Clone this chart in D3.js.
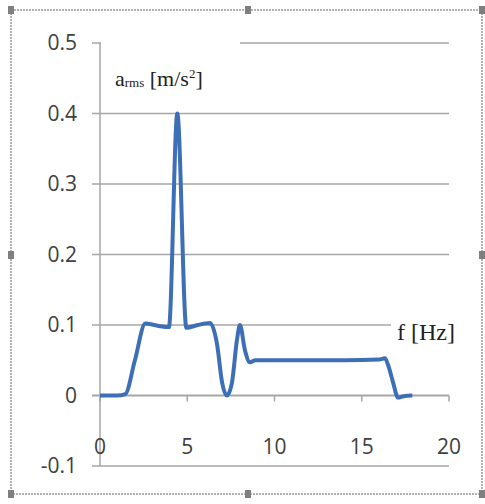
<!DOCTYPE html>
<html lang="en">
<head>
  <meta charset="UTF-8">
  <title>a_rms vs f</title>
  <script src="https://d3js.org/d3.v7.min.js"></script>
  <style>
    body { margin: 0; background: #fff; }
    text { fill: #404040; }
  </style>
</head>
<body>
  <svg width="485" height="504"></svg>

  <script>
    // frequency [Hz] and rms acceleration [m/s2]
    var freq = [0, 0.5, 1.0, 1.45, 2.0, 2.6, 3.3, 3.95, 4.43, 4.95, 5.6, 6.3, 6.7, 7.0, 7.27, 7.56, 7.85, 8.02, 8.3, 8.6, 8.9, 10, 12, 14, 16, 16.33, 16.5, 16.8, 17.08, 17.4, 17.9];
    var arms = [0, 0, 0, 0.002, 0.05, 0.102, 0.099, 0.097, 0.4, 0.096, 0.1, 0.103, 0.074, 0.018, 0, 0.018, 0.079, 0.1, 0.065, 0.047, 0.05, 0.05, 0.05, 0.05, 0.051, 0.053, 0.044, 0.018, -0.003, -0.001, 0];

    var xTicks = [0, 5, 10, 15, 20];
    var yTicks = [-0.1, 0, 0.1, 0.2, 0.3, 0.4, 0.5];

    var svg = d3.select("svg");

    var x = d3.scaleLinear().domain([0, 20]).range([100, 449]);
    var y = d3.scaleLinear().domain([-0.1, 0.5]).range([466, 43]);

    // dashed selection frame with handles
    svg.append("rect")
        .attr("x", 11).attr("y", 10).attr("width", 471).attr("height", 484)
        .attr("fill", "none").attr("stroke", "#999")
        .attr("stroke-width", 1.5).attr("stroke-dasharray", "2,1");

    var handles = [[11, 10], [248, 10], [482, 10], [11, 255], [482, 255], [11, 494], [248, 494], [482, 494]];
    svg.append("g").selectAll("rect")
        .data(handles)
        .enter().append("rect")
        .attr("x", d => d[0] - 3).attr("y", d => d[1] - 4)
        .attr("width", 6).attr("height", 8)
        .attr("fill", "#7f7f7f");

    // gridlines
    svg.append("g").selectAll("line")
        .data(yTicks.filter(d => d !== 0))
        .enter().append("line")
        .attr("x1", 92).attr("x2", x(20))
        .attr("y1", d => y(d)).attr("y2", d => y(d))
        .attr("stroke", "#a6a6a6").attr("stroke-width", 1.5);

    // y axis
    svg.append("line")
        .attr("x1", x(0)).attr("x2", x(0))
        .attr("y1", y(0.5)).attr("y2", y(-0.1))
        .attr("stroke", "#a6a6a6").attr("stroke-width", 1.5);

    // x axis at zero, ticks below
    svg.append("line")
        .attr("x1", 92).attr("x2", x(20))
        .attr("y1", y(0)).attr("y2", y(0))
        .attr("stroke", "#a6a6a6").attr("stroke-width", 2);
    svg.append("g").selectAll("line")
        .data(xTicks)
        .enter().append("line")
        .attr("x1", d => x(d)).attr("x2", d => x(d))
        .attr("y1", y(0)).attr("y2", y(0) + 6)
        .attr("stroke", "#a6a6a6").attr("stroke-width", 1.5);

    // y tick labels
    svg.append("g").selectAll("text")
        .data(yTicks)
        .enter().append("text")
        .attr("x", 77).attr("y", d => y(d) + 7)
        .attr("text-anchor", "end")
        .style("font-family", "Open Sans, sans-serif")
        .style("font-size", "21px")
        .text(d => d);

    // x tick labels
    svg.append("g").selectAll("text")
        .data(xTicks)
        .enter().append("text")
        .attr("x", d => x(d)).attr("y", 454)
        .attr("text-anchor", "middle")
        .style("font-family", "Open Sans, sans-serif")
        .style("font-size", "21px")
        .text(d => d);

    // title boxes hide part of the gridlines
    svg.append("rect")
        .attr("x", x(0) + 1).attr("y", y(0.5) - 5).attr("width", 139).attr("height", 10)
        .attr("fill", "#fff");
    svg.append("rect")
        .attr("x", 391).attr("y", y(0.1) - 5).attr("width", 60).attr("height", 10)
        .attr("fill", "#fff");

    // data line
    var points = freq.map((f, i) => [f, arms[i]]);
    var line = d3.line()
        .x(d => x(d[0]))
        .y(d => y(d[1]))
        .curve(d3.curveMonotoneX);

    svg.append("path")
        .datum(points)
        .attr("fill", "none")
        .attr("stroke", "#3d6fb6")
        .attr("stroke-width", 4)
        .attr("stroke-linejoin", "round")
        .attr("d", line);

    // axis titles
    var yt = svg.append("text")
        .attr("x", 115).attr("y", 86)
        .style("font-family", "Liberation Serif, serif")
        .style("font-size", "22px")
        .style("fill", "#222");
    yt.append("tspan").text("a");
    yt.append("tspan").style("font-size", "13px").attr("dy", 1).text("rms");
    yt.append("tspan").attr("dy", -1).text(" [m/s");
    yt.append("tspan").style("font-size", "13px").attr("dy", -8).text("2");
    yt.append("tspan").attr("dy", 8).text("]");

    svg.append("text")
        .attr("x", 397).attr("y", 340)
        .style("font-family", "Liberation Serif, serif")
        .style("font-size", "24px")
        .style("fill", "#222")
        .text("f [Hz]");
  </script>
</body>
</html>
